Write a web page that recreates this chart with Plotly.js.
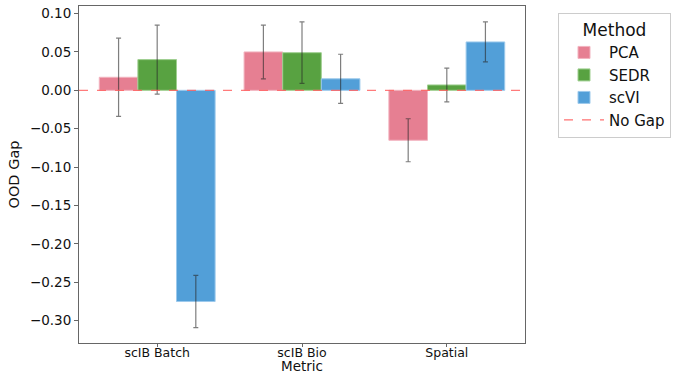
<!DOCTYPE html>
<html>
<head>
<meta charset="utf-8">
<script src="https://cdn.plot.ly/plotly-3.0.1.min.js"></script>
<style>html,body{margin:0;padding:0;background:#fff;}#chart{width:684px;height:374px;}</style>
</head>
<body>
<div id="chart"></div>
<script>
const categories = ["scIB Batch", "scIB Bio", "Spatial"];
const methods = ["PCA", "SEDR", "scVI"];
const pcaValues = [0.017, 0.050, -0.065];
const pcaErrors = [0.051, 0.035, 0.028];
const sedrValues = [0.040, 0.049, 0.007];
const sedrErrors = [0.045, 0.040, 0.022];
const scviValues = [-0.275, 0.015, 0.063];
const scviErrors = [0.034, 0.032, 0.026];
const colors = ["#e67f92", "#58a241", "#529fd8"];
const edgeColors = ["#f2b3bf", "#9fcf90", "#9cc9ec"];
const noGapValue = 0;

const xPos = categories.map((c, i) => i);
const values = [pcaValues, sedrValues, scviValues];
const errors = [pcaErrors, sedrErrors, scviErrors];
const font = "DejaVu Sans, Liberation Sans, sans-serif";

const traces = methods.map((m, k) => ({
  type: "bar",
  name: m,
  x: xPos,
  y: values[k],
  marker: {color: colors[k], line: {color: edgeColors[k], width: 1}},
  error_y: {type: "data", array: errors[k], visible: true, color: "rgba(40,40,40,0.6)", thickness: 1.2, width: 2.5}
}));
traces.push({
  type: "scatter",
  mode: "lines",
  name: "No Gap",
  x: [null],
  y: [null],
  line: {color: "#ff7070", dash: "dash", width: 1.2},
  hoverinfo: "skip"
});

const layout = {
  width: 684, height: 374,
  margin: {l: 79, r: 159, t: 6, b: 31},
  paper_bgcolor: "#fff", plot_bgcolor: "#fff",
  barmode: "group", bargap: 0.2, bargroupgap: 0,
  font: {family: font, color: "#111", size: 13},
  xaxis: {
    range: [-0.54, 2.54],
    tickvals: xPos, ticktext: categories,
    showgrid: false, zeroline: false,
    showline: true, mirror: true, linecolor: "#666", linewidth: 1,
    ticks: "outside", ticklen: 3, tickcolor: "#666",
    ticklabelstandoff: -5,
    tickfont: {family: font, size: 12.5, color: "#111"}
  },
  yaxis: {
    range: [-0.329, 0.1098],
    dtick: 0.05, tick0: 0, tickformat: ".2f",
    showgrid: false, zeroline: false,
    showline: true, mirror: true, linecolor: "#666", linewidth: 1,
    ticks: "outside", ticklen: 4, tickcolor: "#666",
    tickfont: {family: font, size: 13.5, color: "#111"},
    title: {text: "OOD Gap", font: {family: font, size: 14.5, color: "#111"}, standoff: 6}
  },
  annotations: [{
    text: "Metric", xref: "paper", x: 0.5, xanchor: "center",
    yref: "paper", y: -0.0697, yanchor: "middle", showarrow: false,
    font: {family: font, size: 13.5, color: "#111"}
  }],
  shapes: [{
    type: "line", xref: "paper", x0: 0, x1: 1, yref: "y", y0: noGapValue, y1: noGapValue,
    line: {color: "rgba(255,90,90,0.8)", dash: "dash", width: 1.3}, layer: "above"
  }],
  legend: {
    x: 1.074, xanchor: "left", y: 0.979, yanchor: "top",
    title: {text: "Method", font: {family: font, size: 17, color: "#111"}, side: "top center"},
    font: {family: font, size: 15, color: "#111"},
    bordercolor: "#ccc", borderwidth: 1, bgcolor: "#fff",
    traceorder: "normal", itemwidth: 40, tracegroupgap: 0
  },
  showlegend: true
};

Plotly.newPlot("chart", traces, layout, {displayModeBar: false, staticPlot: true});
</script>
</body>
</html>
